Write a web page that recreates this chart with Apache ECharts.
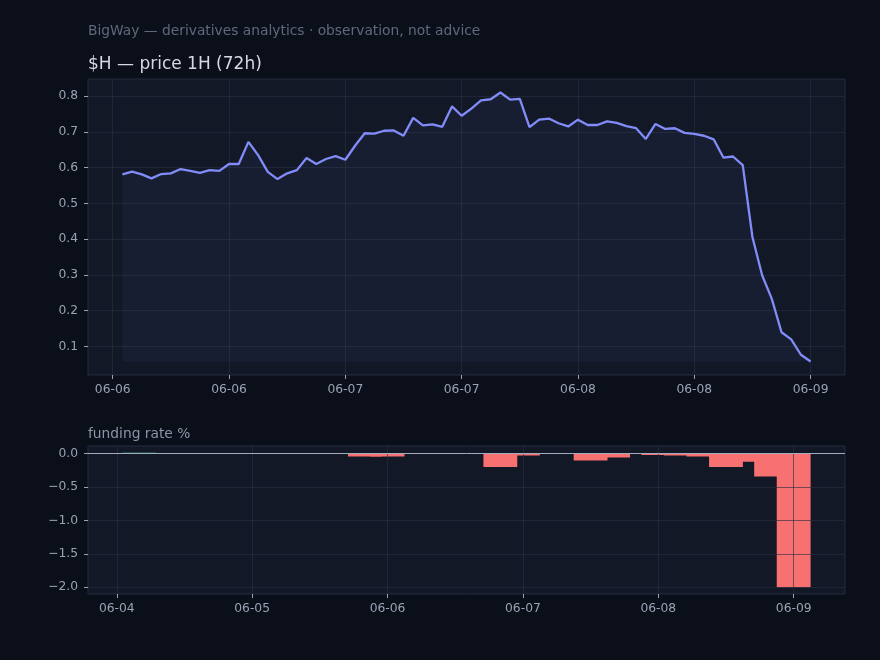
<!DOCTYPE html>
<html><head><meta charset="utf-8">
<script src="https://cdn.jsdelivr.net/npm/echarts@6/dist/echarts.min.js"></script>
<style>html,body{margin:0;padding:0;background:#0b0f1a;}#c{width:880px;height:660px;}</style>
</head><body><div id="c"></div>
<script>
// ---- data ----
const headerText = 'BigWay — derivatives analytics · observation, not advice';
const titleText = '$H — price 1H (72h)';
const fundingTitle = 'funding rate %';

const priceStart = '2025-06-06T01:00:00Z'; // hourly candles
const priceValues = [
  0.581, 0.589, 0.581, 0.570, 0.582, 0.584, 0.596, 0.591, 0.585, 0.593, 0.591, 0.610,
  0.610, 0.672, 0.635, 0.588, 0.568, 0.584, 0.593, 0.627, 0.610, 0.624, 0.632, 0.622,
  0.661, 0.696, 0.695, 0.703, 0.704, 0.689, 0.739, 0.718, 0.721, 0.714, 0.771, 0.745,
  0.765, 0.788, 0.791, 0.810, 0.790, 0.792, 0.713, 0.734, 0.737, 0.724, 0.715, 0.734,
  0.719, 0.719, 0.729, 0.725, 0.716, 0.710, 0.680, 0.722, 0.708, 0.710, 0.697, 0.694,
  0.689, 0.679, 0.628, 0.631, 0.607, 0.406, 0.299, 0.233, 0.140, 0.120, 0.077, 0.058
];
const priceXTicks = ['2025-06-06T00:00:00Z','2025-06-06T12:00:00Z','2025-06-07T00:00:00Z',
  '2025-06-07T12:00:00Z','2025-06-08T00:00:00Z','2025-06-08T12:00:00Z','2025-06-09T00:00:00Z'];
const priceYTicks = [0.1, 0.2, 0.3, 0.4, 0.5, 0.6, 0.7, 0.8];

const fundingTimes = ['2025-06-04T04:00:00Z','2025-06-05T20:00:00Z','2025-06-06T00:00:00Z',
  '2025-06-06T20:00:00Z','2025-06-07T00:00:00Z','2025-06-07T12:00:00Z','2025-06-07T16:00:00Z',
  '2025-06-08T00:00:00Z','2025-06-08T04:00:00Z','2025-06-08T08:00:00Z','2025-06-08T12:00:00Z',
  '2025-06-08T16:00:00Z','2025-06-08T20:00:00Z','2025-06-09T00:00:00Z'];
const fundingRates = [0.015, -0.04, -0.04, -0.2, -0.025, -0.1, -0.055, -0.02, -0.025, -0.04, -0.2, -0.12, -0.34, -2.0];
const fundingXTicks = ['2025-06-04T00:00:00Z','2025-06-05T00:00:00Z','2025-06-06T00:00:00Z',
  '2025-06-07T00:00:00Z','2025-06-08T00:00:00Z','2025-06-09T00:00:00Z'];
const fundingYTicks = [-2.0, -1.5, -1.0, -0.5, 0.0];

// ---- build ----
const H = 3600e3;
const t0 = Date.parse(priceStart);
const priceData = priceValues.map((v, i) => [t0 + i * H, v]);
const fundData = fundingTimes.map((t, i) => [Date.parse(t), fundingRates[i]]);
const barHalf = 3 * H; // bars 6h wide

function pad(lo, hi, m) { const r = hi - lo; return [lo - r * m, hi + r * m]; }
const pX = pad(priceData[0][0], priceData[priceData.length - 1][0], 0.05);
const pMin = Math.min(...priceValues), pMax = Math.max(...priceValues);
const pY = pad(pMin, pMax, 0.05);
const fX = pad(Math.min(...fundData.map(d => d[0])) - barHalf, Math.max(...fundData.map(d => d[0])) + barHalf, 0.05);
const fY = pad(Math.min(0, ...fundingRates), Math.max(0, ...fundingRates), 0.05);

const gridW = 880 - 88 - 35;
const barW = gridW * (2 * barHalf) / (fX[1] - fX[0]);

const FONT = 'DejaVu Sans';
const LBL = '#9aa3b5';
const GRIDLINE = 'rgba(38,46,66,0.62)';
function dateFmt(v) { const d = new Date(v); return String(d.getUTCMonth() + 1).padStart(2, '0') + '-' + String(d.getUTCDate()).padStart(2, '0'); }
function numFmt(v) { return (Math.round(v * 10) / 10).toFixed(1).replace('-', '\u2212'); }

function xAxis(gi, range, ticks) {
  const tv = ticks.map(t => Date.parse(t));
  return {
    type: 'value', gridIndex: gi, min: range[0], max: range[1], position: 'bottom', z: 3,
    axisLine: { show: false, onZero: false },
    axisTick: { show: true, length: 4, customValues: tv, lineStyle: { color: LBL, width: 1 } },
    axisLabel: { customValues: tv, formatter: dateFmt, color: LBL, fontSize: 12.3, fontFamily: FONT, margin: 9 },
    splitLine: { show: true, lineStyle: { color: GRIDLINE, width: 1 } }
  };
}
function yAxis(gi, range, ticks) {
  return {
    type: 'value', gridIndex: gi, min: range[0], max: range[1], position: 'left', z: 3,
    axisLine: { show: false, onZero: false },
    axisTick: { show: true, length: 4, customValues: ticks, lineStyle: { color: LBL, width: 1 } },
    axisLabel: { customValues: ticks, formatter: numFmt, color: LBL, fontSize: 12.3, fontFamily: FONT, margin: 10 },
    splitLine: { show: true, lineStyle: { color: GRIDLINE, width: 1 } }
  };
}

const chart = echarts.init(document.getElementById('c'), null, { renderer: 'canvas' });
chart.setOption({
  animation: false,
  backgroundColor: '#0b0f1a',
  graphic: [
    { type: 'text', x: 88, y: 31, style: { text: headerText, fill: '#5f687c', font: '13.8px "DejaVu Sans"', verticalAlign: 'middle' } },
    { type: 'text', x: 88, y: 65, style: { text: titleText, fill: '#d6dae2', font: '17px "DejaVu Sans"', verticalAlign: 'middle' } },
    { type: 'text', x: 88, y: 434, style: { text: fundingTitle, fill: '#8b93a7', font: '13.8px "DejaVu Sans"', verticalAlign: 'middle' } }
  ],
  grid: [
    { left: 88, right: 35, top: 79, height: 296, show: true, backgroundColor: '#131826', borderColor: '#252d3e', borderWidth: 1 },
    { left: 88, right: 35, top: 446, height: 148, show: true, backgroundColor: '#131826', borderColor: '#252d3e', borderWidth: 1 }
  ],
  xAxis: [xAxis(0, pX, priceXTicks), xAxis(1, fX, fundingXTicks)],
  yAxis: [yAxis(0, pY, priceYTicks), yAxis(1, fY, fundingYTicks)],
  series: [
    {
      type: 'line', xAxisIndex: 0, yAxisIndex: 0, data: priceData, showSymbol: false, silent: true, z: 4,
      lineStyle: { color: '#818cf8', width: 2.3 },
      areaStyle: { color: 'rgba(129,140,248,0.08)', origin: pMin }
    },
    {
      type: 'bar', xAxisIndex: 1, yAxisIndex: 1, data: fundData, barWidth: barW, silent: true, z: 2,
      itemStyle: { color: p => (p.value[1] >= 0 ? '#34d399' : '#f87171') },
      markLine: {
        silent: true, symbol: ['none', 'none'], label: { show: false }, z: 6,
        lineStyle: { color: '#a3acbf', width: 1, type: 'solid' },
        data: [{ yAxis: 0 }]
      }
    }
  ]
});
</script>
</body></html>
